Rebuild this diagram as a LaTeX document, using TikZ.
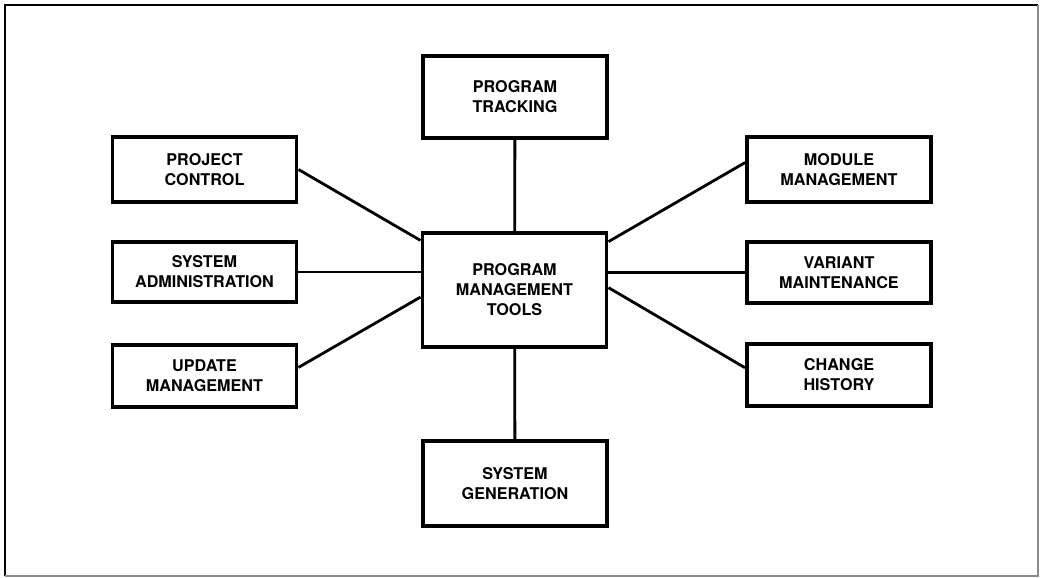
\documentclass[tikz,border=0pt]{standalone}
\usepackage{fontspec}
\setmainfont{TeX Gyre Heros}
\usepackage{tikz}
\usetikzlibrary{positioning,calc}

\begin{document}
\begin{tikzpicture}[x=0.025cm,y=-0.025cm,
		toolbox/.style={draw=black, line width = 2.8pt, fill=white, align=center, inner sep=0pt, minimum width=4.6cm, font=\fontsize{11.5}{14.2}\selectfont\bfseries},
		link/.style={black, line width = 2pt}]
		\useasboundingbox (0,0) rectangle (1040,578);
		% frame
		\draw [black, line width = 1.8pt] (5,576) -- (5,5) -- (1038,5);
		\draw [black!45, line width = 0.8pt] (1038,5) -- (1038,576) -- (5,576);

		% middle column
		\node (track) at (515,97) 	[toolbox, minimum height=2.05cm] {PROGRAM\\TRACKING};
		\node (pmt) at (514.5,290) 	[toolbox, minimum height=2.85cm] {PROGRAM\\MANAGEMENT\\TOOLS};
		\node (sysgen) at (515,483.5) 	[toolbox, minimum height=2.12cm] {SYSTEM\\GENERATION};

		% left column
		\node (projctl) at (204.5,169.5) 	[toolbox, minimum height=1.62cm] {PROJECT\\CONTROL};
		\node (sysadm) at (204.5,272) 	[toolbox, minimum height=1.5cm] {SYSTEM\\ADMINISTRATION};
		\node (updmgt) at (204.5,376) 	[toolbox, minimum height=1.55cm] {UPDATE\\MANAGEMENT};

		% right column
		\node (modmgt) at (839,169.5) 	[toolbox, minimum height=1.62cm] {MODULE\\MANAGEMENT};
		\node (varmnt) at (839,272.5) 	[toolbox, minimum height=1.52cm] {VARIANT\\MAINTENANCE};
		\node (chghst) at (839,375) 	[toolbox, minimum height=1.55cm] {CHANGE\\HISTORY};

		% connectors
		\draw [link] (track) -- (pmt);
		\draw [link] (pmt) -- (sysgen);
		\draw [link] (projctl.east) -- ($(pmt.north west)!0.08!(pmt.south west)$);
		\draw [link] (sysadm.east) -- (sysadm.east -| pmt.west);
		\draw [link] ($(updmgt.north east)!0.37!(updmgt.south east)$) -- ($(pmt.north west)!0.56!(pmt.south west)$);
		\draw [link] ($(modmgt.north west)!0.4!(modmgt.south west)$) -- ($(pmt.north east)!0.09!(pmt.south east)$);
		\draw [link] (varmnt.west) -- (varmnt.west -| pmt.east);
		\draw [link] ($(chghst.north west)!0.39!(chghst.south west)$) -- ($(pmt.north east)!0.48!(pmt.south east)$);
	\end{tikzpicture}
\end{document}
